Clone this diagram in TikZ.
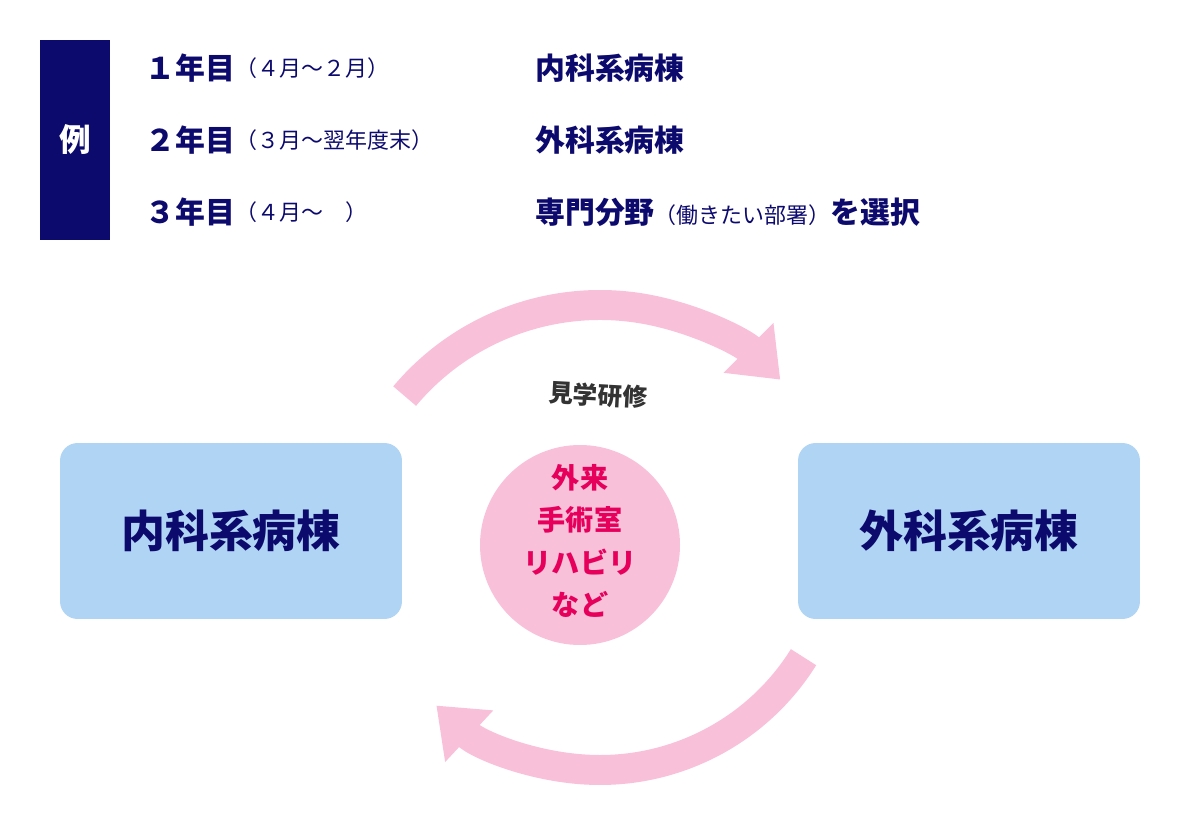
\documentclass[tikz,border=0pt]{standalone}
\usepackage{fontspec}
\setmainfont{Noto Sans CJK JP}
\usetikzlibrary{positioning,arrows.meta}
\definecolor{navy}{HTML}{0D0A6E}
\definecolor{pinkarc}{HTML}{F9C0D9}
\definecolor{wardblue}{HTML}{B0D4F4}
\definecolor{magenta}{HTML}{E6005C}
\tikzset{
    year/.style = { text=navy,font=\fontsize{17}{20}\selectfont\bfseries,inner sep=0,anchor=west, },
    term/.style = { text=navy,font=\fontsize{12.5}{15}\selectfont,inner sep=0,anchor=west, },
    ward/.style = { text=navy,font=\fontsize{17}{20}\selectfont\bfseries,inner sep=0,anchor=west, },
    wardbox/.style = { fill=wardblue,rounded corners=10pt,minimum width=6.84cm,minimum height=3.52cm,
        text=navy,font=\fontsize{25}{30}\selectfont\bfseries, },
    cycle/.style = { pinkarc,line width=0.6cm,-{Triangle[length=0.9cm,width=1.35cm]}, },
}
\begin{document}
\begin{tikzpicture}[x=0.02cm,y=-0.02cm]
    \useasboundingbox (0,0) rectangle (1200,820);

    % example table
    \fill [navy] (40,40) rectangle (110,240);
    \node [text=white,font=\fontsize{18}{20}\selectfont\bfseries] (ex) at (75,140) {例};

    \node [year] (y1) at (145,68) {１年目};
    \node [term,right=0pt of y1] (t1) {（４月〜２月）};
    \node [ward] (w1) at (535,68) {内科系病棟};

    \node [year] (y2) at (145,140) {２年目};
    \node [term,right=0pt of y2] (t2) {（３月〜翌年度末）};
    \node [ward] (w2) at (535,140) {外科系病棟};

    \node [year] (y3) at (145,212) {３年目};
    \node [term,right=0pt of y3] (t3) {（４月〜\hspace{1em}）};
    \node [ward] (w3) at (535,212) {専門分野{\mdseries\fontsize{12.5}{15}\selectfont （働きたい部署）}を選択};

    % rotation
    \draw [cycle] (600,560) ++(-140:255) arc [start angle=-140,end angle=-45,radius=255];
    \draw [cycle] (600,530) ++(32:240) arc [start angle=32,end angle=133,radius=240];

    \node [wardbox] (inner) at (231,531) {内科系病棟};
    \node [wardbox] (outer) at (969,531) {外科系病棟};

    \fill [pinkarc] (580,545) circle (100);
    \node [text=magenta,font=\fontsize{16}{24}\selectfont\bfseries,align=center] (visit) at (580,541) {外来\\手術室\\リハビリ\\など};
    \node [text=black!80,font=\fontsize{14}{16}\selectfont\bfseries,rotate=-3] (tour) at (598,395) {見学研修};

\end{tikzpicture}
\end{document}
